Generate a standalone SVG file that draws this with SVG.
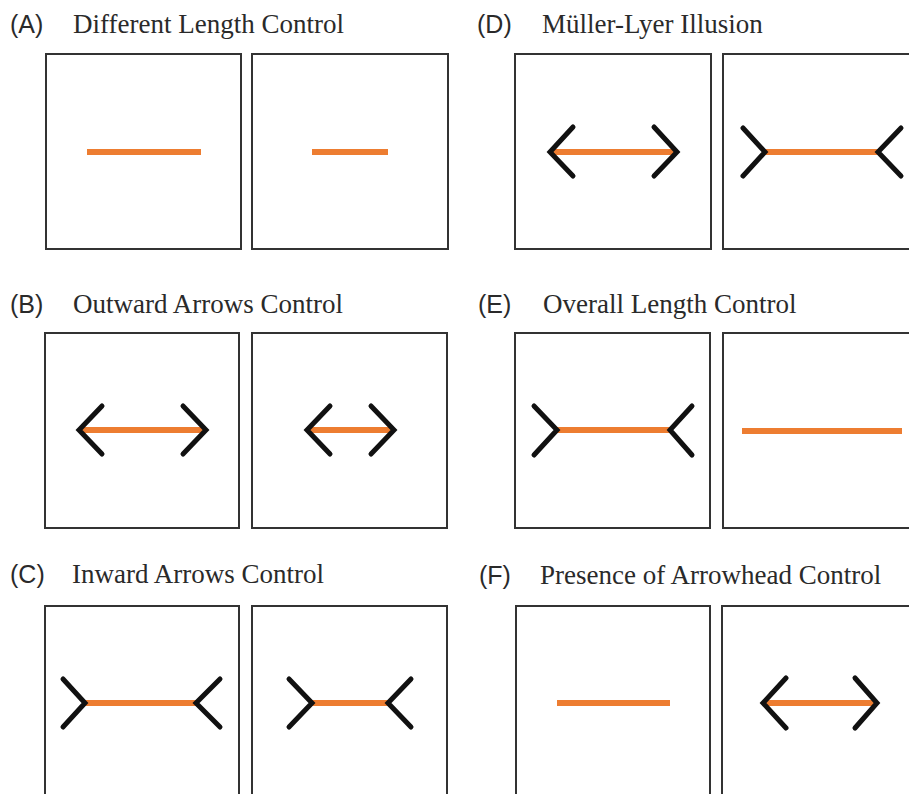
<svg xmlns="http://www.w3.org/2000/svg" width="909" height="794" viewBox="0 0 909 794">
  <style>
    .frame { fill: #ffffff; stroke: #333333; stroke-width: 2; }
    .shaft { stroke: #ED7D31; stroke-width: 6; fill: none; }
    .fin { stroke: #111111; stroke-width: 5; fill: none; stroke-linecap: round; stroke-linejoin: miter; }
    .tag { font-family: "Liberation Sans", Arial, sans-serif; font-size: 25px; fill: #2a2a2a; }
    .title { font-family: "Liberation Serif", "Times New Roman", serif; font-size: 27px; fill: #2a2a2a; }
  </style>
  <rect width="909" height="794" fill="#ffffff"/>

  <!-- (A) Different Length Control -->
  <g id="panel-a">
    <text class="tag" x="10" y="33">(A)</text>
    <text class="title" x="73" y="33">Different Length Control</text>
    <rect class="frame" x="46" y="54" width="195" height="195"/>
    <rect class="frame" x="252" y="54" width="196" height="195"/>
    <line class="shaft" x1="87" y1="152" x2="201" y2="152"/>
    <line class="shaft" x1="312" y1="152" x2="388" y2="152"/>
  </g>

  <!-- (B) Outward Arrows Control -->
  <g id="panel-b">
    <text class="tag" x="10" y="313">(B)</text>
    <text class="title" x="73" y="313">Outward Arrows Control</text>
    <rect class="frame" x="45" y="333" width="194" height="195"/>
    <rect class="frame" x="252" y="333" width="195" height="195"/>
    <line class="shaft" x1="81" y1="430" x2="204" y2="430"/>
    <polyline class="fin" points="102,406 79,430 102,454"/>
    <polyline class="fin" points="183,406 206,430 183,454"/>
    <line class="shaft" x1="309" y1="430" x2="392" y2="430"/>
    <polyline class="fin" points="330,406 307,430 330,454"/>
    <polyline class="fin" points="371,406 394,430 371,454"/>
  </g>

  <!-- (C) Inward Arrows Control -->
  <g id="panel-c">
    <text class="tag" x="10" y="583">(C)</text>
    <text class="title" x="72" y="583">Inward Arrows Control</text>
    <rect class="frame" x="45" y="606" width="194" height="200"/>
    <rect class="frame" x="252" y="606" width="195" height="200"/>
    <line class="shaft" x1="83" y1="703" x2="198" y2="703"/>
    <polyline class="fin" points="63,679 85,703 63,727"/>
    <polyline class="fin" points="220,679 196,703 220,727"/>
    <line class="shaft" x1="312" y1="703" x2="388" y2="703"/>
    <polyline class="fin" points="289,679 312,703 289,727"/>
    <polyline class="fin" points="411,679 388,703 411,727"/>
  </g>

  <!-- (D) Müller-Lyer Illusion -->
  <g id="panel-d">
    <text class="tag" x="477" y="33">(D)</text>
    <text class="title" x="542" y="33">Müller-Lyer Illusion</text>
    <rect class="frame" x="515" y="54" width="196" height="195"/>
    <rect class="frame" x="723" y="54" width="196" height="195"/>
    <line class="shaft" x1="552" y1="152" x2="675" y2="152"/>
    <polyline class="fin" points="573,127 550,152 573,176"/>
    <polyline class="fin" points="654,127 677,152 654,176"/>
    <line class="shaft" x1="765" y1="152" x2="878" y2="152"/>
    <polyline class="fin" points="743,128 765,152 743,176"/>
    <polyline class="fin" points="901,128 878,152 901,176"/>
  </g>

  <!-- (E) Overall Length Control -->
  <g id="panel-e">
    <text class="tag" x="478" y="313">(E)</text>
    <text class="title" x="543" y="313">Overall Length Control</text>
    <rect class="frame" x="515" y="333" width="195" height="195"/>
    <rect class="frame" x="723" y="333" width="196" height="195"/>
    <line class="shaft" x1="557" y1="430" x2="670" y2="430"/>
    <polyline class="fin" points="534,406 557,430 534,455"/>
    <polyline class="fin" points="692,406 670,430 692,455"/>
    <line class="shaft" x1="742" y1="431" x2="902" y2="431"/>
  </g>

  <!-- (F) Presence of Arrowhead Control -->
  <g id="panel-f">
    <text class="tag" x="479" y="584">(F)</text>
    <text class="title" x="540" y="584">Presence of Arrowhead Control</text>
    <rect class="frame" x="516" y="606" width="194" height="200"/>
    <rect class="frame" x="722" y="606" width="196" height="200"/>
    <line class="shaft" x1="557" y1="703" x2="670" y2="703"/>
    <line class="shaft" x1="765" y1="703" x2="875" y2="703"/>
    <polyline class="fin" points="786,678 763,703 786,728"/>
    <polyline class="fin" points="855,678 877,703 855,728"/>
  </g>
</svg>
